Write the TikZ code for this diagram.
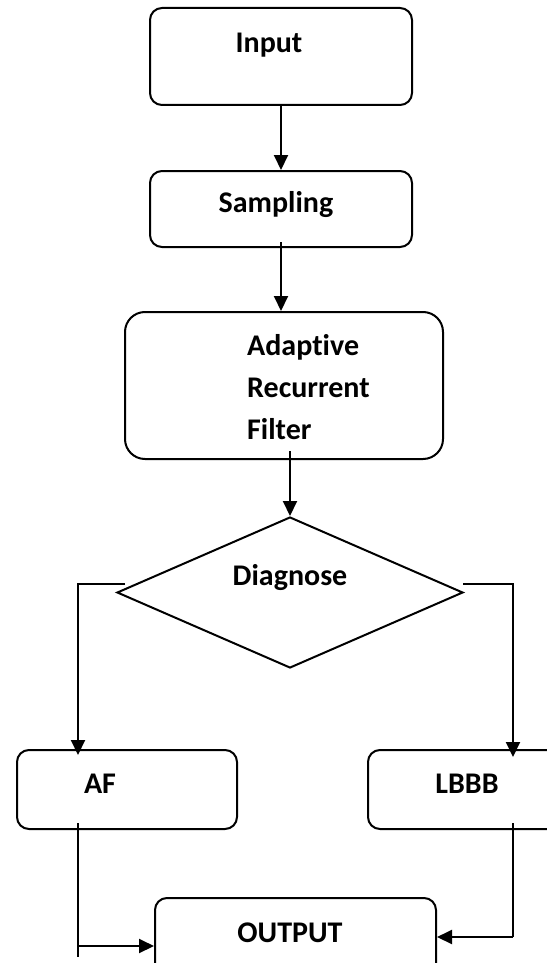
\documentclass[tikz,border=0pt]{standalone}
\usepackage{fontspec}
\setmainfont{Carlito}[Ligatures=NoCommon]
\usetikzlibrary{arrows.meta,shapes.geometric}
\begin{document}
\begin{tikzpicture}[x=1pt,y=-1pt,
  ln/.style={line width=2pt},
  box/.style={draw, line width=2pt, rounded corners=12pt, inner sep=0pt},
  lbl/.style={font=\bfseries\fontsize{30}{42}\selectfont, inner sep=0pt},
  arr/.style={line width=2pt, -{Triangle[length=15pt,width=14pt]}}]
\useasboundingbox (0,0) rectangle (546,963);
% boxes
\node[box, minimum width=262pt, minimum height=97pt] (input) at (281,56.5) {};
\node[box, minimum width=262pt, minimum height=76pt] (sampling) at (281,209) {};
\node[box, rounded corners=20pt, minimum width=318pt, minimum height=147pt] (arf) at (284,385.5) {};
\node[draw, ln, diamond, inner sep=0pt, minimum width=346pt, minimum height=151pt] (dia) at (290,592.5) {};
\node[box, minimum width=220pt, minimum height=79pt] (af) at (127,789.5) {};
\node[box, minimum width=220pt, minimum height=79pt] (lbbb) at (478,789.5) {};
\node[box, minimum width=281pt, minimum height=80pt] (out) at (295.5,938) {};
% labels
\node[lbl] (tin) at (269,45) {Input};
\node[lbl] (tsa) at (276,205) {Sampling};
\node[lbl, align=left, anchor=west] (tarf) at (247,387) {Adapt\kern0pt ive\\Recurrent\\Filter};
\node[lbl] (tdia) at (290,578) {Diagnose};
\node[lbl] (taf) at (100,784) {AF};
\node[lbl] (tlb) at (467,784) {LBBB};
\node[lbl] (tout) at (290,933) {OUTPUT};
% coordinates
\coordinate (dl) at (125,584);
\coordinate (lt) at (78,584);
\coordinate (dr) at (463,584);
\coordinate (rt) at (513,584);
\coordinate (afb) at (78,823);
\coordinate (afe) at (78,957);
\coordinate (afa) at (78,946);
\coordinate (lbb) at (513,823);
\coordinate (lba) at (513,937);
% connectors
\draw[arr] (input.south) -- (sampling.north);
\draw[arr] ([yshift=6pt]sampling.south) -- (sampling.south |- arf.north);
\draw[arr] ([yshift=9pt]arf.south -| dia.north) -- (dia.north);
\draw[arr] (dl) -- (lt) -- ([yshift=-6pt]lt |- af.north);
\draw[arr] (dr) -- (rt) -- ([yshift=-8pt]rt |- lbbb.north);
\draw[ln] (afb) -- (afe);
\draw[arr] (afa) -- (afa -| out.west);
\draw[ln] (lbb) -- (lba);
\draw[arr] (lba) -- (lba -| out.east);
\end{tikzpicture}
\end{document}
